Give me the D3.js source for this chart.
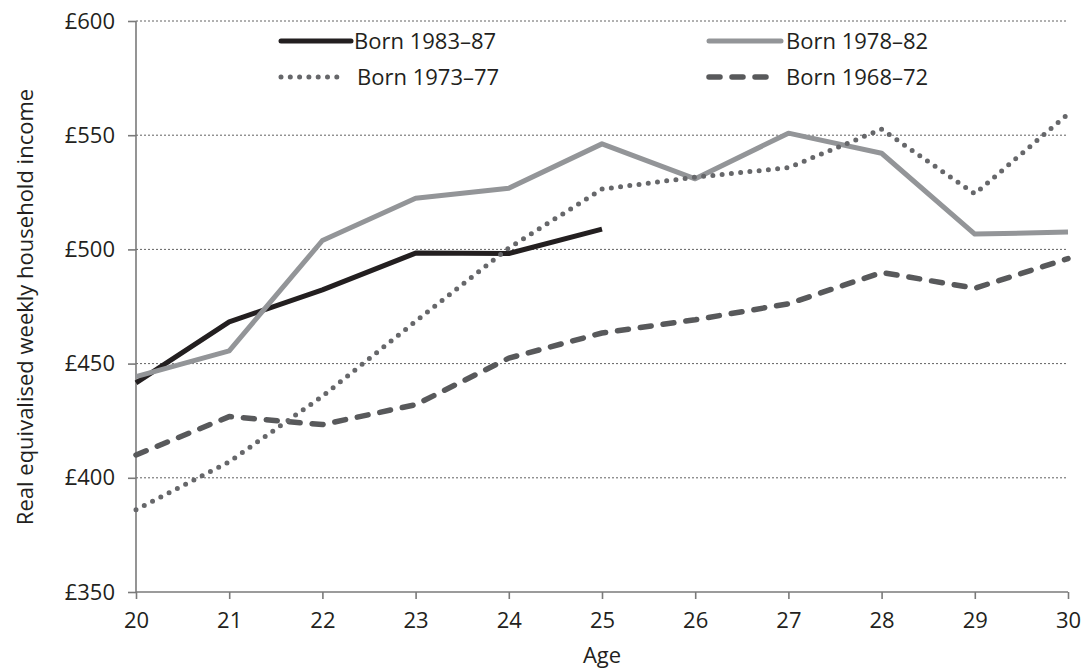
<!DOCTYPE html>
<html><head><meta charset="utf-8">
<script src="https://cdn.jsdelivr.net/npm/d3@7"></script>
<style>
body{margin:0;background:#fff;}
text{font-family:"Open Sans",sans-serif;fill:#231f20;}
</style></head>
<body><svg id="c" width="1084" height="668"></svg>
<script>
const ages = [20,21,22,23,24,25,26,27,28,29,30];
const born8387 = [441.6,468.3,482.3,498.4,498.2,508.9];
const born7882 = [444.3,455.6,503.9,522.4,526.8,546.2,530.9,550.9,542.1,506.7,507.6];
const born7377 = [386,407,435.7,468.5,500.6,526.4,531.6,535.8,552.6,524.3,559.3];
const born6872 = [410,426.8,423.3,432,452.4,463.4,469.2,476.2,489.9,483,496];
const yTicks = [350,400,450,500,550,600];
const seriesNames = ["Born 1983–87","Born 1978–82","Born 1973–77","Born 1968–72"];

const FONT = "'Open Sans',sans-serif";
const svg = d3.select("#c");
const x = d3.scaleLinear().domain([20,30]).range([136,1068]);
const y = d3.scaleLinear().domain([350,600]).range([592,21]);

// gridlines
svg.append("g").selectAll("line").data(yTicks.filter(d=>d>350)).join("line")
  .attr("x1",136).attr("x2",1068).attr("y1",d=>y(d)).attr("y2",d=>y(d))
  .attr("stroke","#3a3a3a").attr("stroke-width",0.8).attr("stroke-dasharray","2,2");

// axes
const yAxis = svg.append("g").attr("transform","translate(136,0)")
  .call(d3.axisLeft(y).tickValues(yTicks).tickSize(8).tickPadding(13).tickFormat(d=>"£"+d));
const xAxis = svg.append("g").attr("transform","translate(0,592)")
  .call(d3.axisBottom(x).tickValues(ages).tickSize(7).tickPadding(13).tickFormat(d3.format("d")));
[yAxis,xAxis].forEach(a=>{
  a.select(".domain").attr("stroke","#7a7a7a").attr("stroke-width",1.6);
  a.selectAll(".tick line").attr("stroke","#7a7a7a").attr("stroke-width",1.6);
  a.selectAll(".tick text").style("font-family",FONT).style("font-size","22px").attr("fill","#231f20");
});
yAxis.select(".domain").attr("d","M0,"+y(600)+"V"+y(350));
xAxis.select(".domain").attr("d","M"+x(20)+",0H"+x(30));

svg.append("text").attr("x",602).attr("y",663).attr("text-anchor","middle").style("font-size","22px").text("Age");
svg.append("text").attr("transform","translate(33,307) rotate(-90)").attr("text-anchor","middle").style("font-size","22px").text("Real equivalised weekly household income");

const line = d3.line().x((d,i)=>x(ages[i])).y(d=>y(d));
const styles = [
  {data:born8387,color:"#231f20",w:5,dash:null},
  {data:born7882,color:"#939598",w:5,dash:null},
  {data:born6872,color:"#58595b",w:5.5,dash:"11,12"},
  {data:born7377,color:"#66676a",w:5,dash:"0,9.3"}
];
styles.forEach(s=>{
  svg.append("path").attr("d",line(s.data)).attr("fill","none")
    .attr("stroke",s.color).attr("stroke-width",s.w)
    .attr("stroke-linecap",s.dash?"round":"butt").attr("stroke-linejoin","round")
    .attr("stroke-dasharray",s.dash);
});

// legend
const leg = [
  {name:seriesNames[0],s:styles[0],x1:281,x2:351,ty:41,tx:354},
  {name:seriesNames[1],s:styles[1],x1:709,x2:781,ty:41,tx:786},
  {name:seriesNames[2],s:styles[3],x1:281,x2:342,ty:77,tx:357},
  {name:seriesNames[3],s:styles[2],x1:709,x2:774,ty:77,tx:786}
];
leg.forEach(l=>{
  svg.append("line").attr("x1",l.x1).attr("x2",l.x2).attr("y1",l.ty).attr("y2",l.ty)
    .attr("stroke",l.s.color).attr("stroke-width",l.s.w)
    .attr("stroke-linecap","round").attr("stroke-dasharray",l.s.dash);
  svg.append("text").attr("x",l.tx).attr("y",l.ty).attr("dy","0.36em").style("font-size","22px").text(l.name);
});
</script></body></html>
